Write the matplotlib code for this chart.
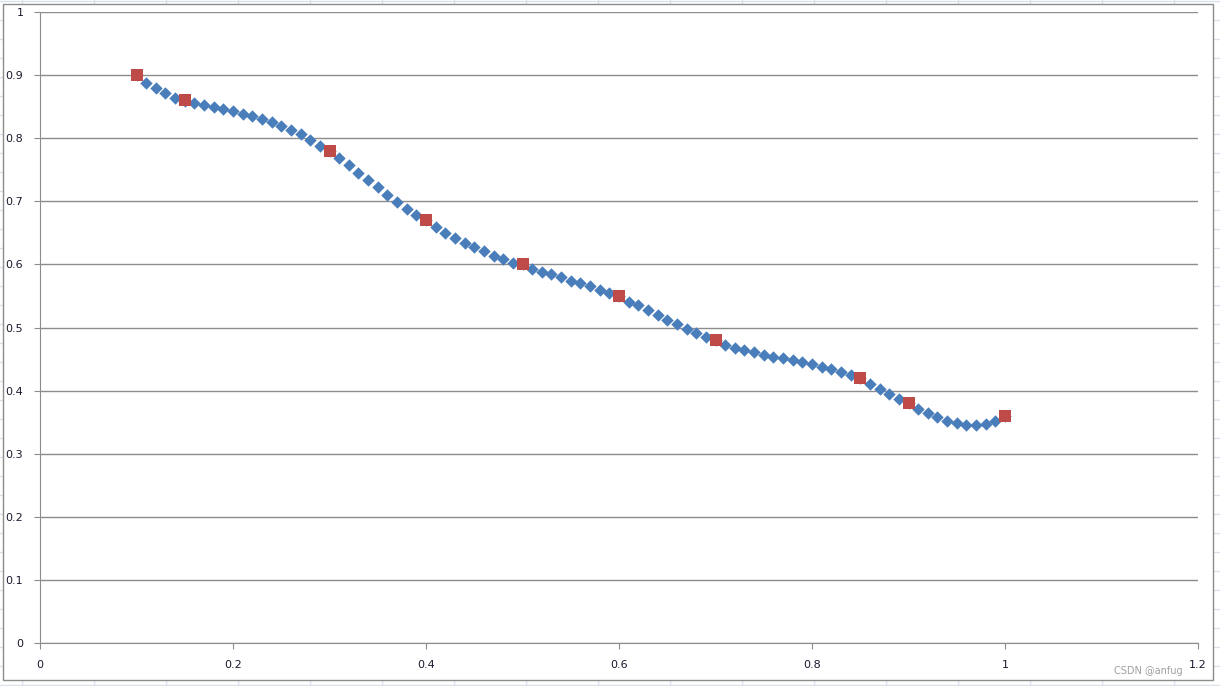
import matplotlib.pyplot as plt
from matplotlib.patches import Rectangle
from matplotlib.lines import Line2D

# measured points (red squares)
x_pts = [0.1, 0.15, 0.3, 0.4, 0.5, 0.6, 0.7, 0.85, 0.9, 1.0]
y_pts = [0.9, 0.86, 0.78, 0.67, 0.6, 0.55, 0.48, 0.42, 0.38, 0.36]

# fitted curve points (blue diamonds)
x_fit = [0.10, 0.11, 0.12, 0.13, 0.14, 0.15, 0.16, 0.17, 0.18, 0.19,
         0.20, 0.21, 0.22, 0.23, 0.24, 0.25, 0.26, 0.27, 0.28, 0.29,
         0.30, 0.31, 0.32, 0.33, 0.34, 0.35, 0.36, 0.37, 0.38, 0.39,
         0.40, 0.41, 0.42, 0.43, 0.44, 0.45, 0.46, 0.47, 0.48, 0.49,
         0.50, 0.51, 0.52, 0.53, 0.54, 0.55, 0.56, 0.57, 0.58, 0.59,
         0.60, 0.61, 0.62, 0.63, 0.64, 0.65, 0.66, 0.67, 0.68, 0.69,
         0.70, 0.71, 0.72, 0.73, 0.74, 0.75, 0.76, 0.77, 0.78, 0.79,
         0.80, 0.81, 0.82, 0.83, 0.84, 0.85, 0.86, 0.87, 0.88, 0.89,
         0.90, 0.91, 0.92, 0.93, 0.94, 0.95, 0.96, 0.97, 0.98, 0.99, 1.00]
y_fit = [0.900, 0.888, 0.879, 0.871, 0.864, 0.859, 0.855, 0.852, 0.849, 0.846,
         0.843, 0.839, 0.835, 0.830, 0.826, 0.819, 0.813, 0.806, 0.797, 0.788,
         0.780, 0.768, 0.757, 0.745, 0.733, 0.722, 0.710, 0.699, 0.688, 0.678,
         0.670, 0.659, 0.650, 0.642, 0.634, 0.628, 0.621, 0.614, 0.609, 0.603,
         0.600, 0.593, 0.588, 0.584, 0.580, 0.574, 0.570, 0.565, 0.559, 0.554,
         0.550, 0.541, 0.535, 0.527, 0.520, 0.512, 0.505, 0.498, 0.491, 0.485,
         0.480, 0.473, 0.468, 0.465, 0.461, 0.457, 0.454, 0.451, 0.448, 0.445,
         0.442, 0.438, 0.434, 0.430, 0.425, 0.420, 0.411, 0.403, 0.395, 0.387,
         0.380, 0.371, 0.364, 0.358, 0.352, 0.348, 0.346, 0.346, 0.347, 0.352, 0.360]

x_ticks = [0, 0.2, 0.4, 0.6, 0.8, 1, 1.2]
y_ticks = [0, 0.1, 0.2, 0.3, 0.4, 0.5, 0.6, 0.7, 0.8, 0.9, 1]

W, H = 1220, 686
fig = plt.figure(figsize=(W / 100, H / 100), dpi=100)
fig.patch.set_facecolor("white")

# spreadsheet cell grid behind the chart
cell = "#d9e1ec"
for px in range(22, W, 72):
    fig.add_artist(Line2D([px / W, px / W], [0, 1], color=cell, lw=1, zorder=0))
for py in range(1, H, 19):
    fig.add_artist(Line2D([0, 1], [1 - py / H, 1 - py / H], color=cell, lw=1, zorder=0))

# chart area
fig.add_artist(Rectangle((3 / W, 1 - 680 / H), 1210 / W, 676 / H, facecolor="white",
                         edgecolor="#8c8c8c", lw=1, zorder=1))

ax = fig.add_axes([40 / W, 1 - 643 / H, 1158 / W, 631 / H], zorder=2)
ax.patch.set_alpha(0)

ax.scatter(x_fit, y_fit, marker="D", s=40, color="#4a7ebb", linewidths=0, zorder=3)
ax.scatter(x_pts, y_pts, marker="s", s=75, color="#be4b48", linewidths=0, zorder=4)

ax.set_xlim(0, 1.2)
ax.set_ylim(0, 1)
ax.set_xticks(x_ticks)
ax.set_yticks(y_ticks)
ax.set_xticklabels(["0", "0.2", "0.4", "0.6", "0.8", "1", "1.2"])
ax.set_yticklabels(["0", "0.1", "0.2", "0.3", "0.4", "0.5", "0.6", "0.7", "0.8", "0.9", "1"])
ax.grid(axis="y", color="#8c8c8c", lw=1)
ax.set_axisbelow(True)
for s in ["top", "right"]:
    ax.spines[s].set_visible(False)
for s in ["left", "bottom"]:
    ax.spines[s].set_color("#8c8c8c")
ax.tick_params(colors="#8c8c8c", labelcolor="#1a1a2e", length=4, labelsize=8)
ax.tick_params(axis="x", pad=8)
ax.tick_params(axis="y", pad=8)

fig.text(1148 / W, 1 - 671 / H, "CSDN @anfug", color="#a0a0a0", fontsize=7,
         ha="center", va="center")

fig.savefig("out.png", dpi=100)
